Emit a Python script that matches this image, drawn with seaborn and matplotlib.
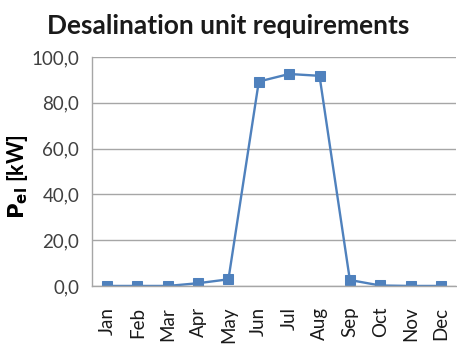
import matplotlib
matplotlib.use("Agg")
import matplotlib.pyplot as plt
import seaborn as sns
import pandas as pd
from matplotlib.ticker import FixedLocator, FuncFormatter

months = ["Jan", "Feb", "Mar", "Apr", "May", "Jun",
          "Jul", "Aug", "Sep", "Oct", "Nov", "Dec"]
power_kw = [0.0, 0.0, 0.0, 1.2, 2.9, 89.3, 92.6, 91.8, 2.6, 0.2, 0.0, 0.0]
y_ticks = [0, 20, 40, 60, 80, 100]

df = pd.DataFrame({"month": months, "power": power_kw})

sns.set_theme(style="white")
plt.rcParams["font.family"] = ["Lato", "DejaVu Sans"]

fig = plt.figure(figsize=(4.57, 3.5), dpi=100)
ax = fig.add_axes([0.201, 0.183, 0.797, 0.654])

line_color = "#4F81BD"
sns.lineplot(data=df, x="month", y="power", ax=ax, sort=False,
             color=line_color, linewidth=1.7, marker="s", markersize=6.5,
             markeredgecolor=line_color, markerfacecolor=line_color)

ax.set_xlim(-0.5, len(months) - 0.5)
ax.set_ylim(0, 100)
ax.yaxis.set_major_locator(FixedLocator(y_ticks))
ax.yaxis.set_major_formatter(FuncFormatter(lambda v, p: f"{v:.1f}".replace(".", ",")))
ax.grid(axis="y", color="#a6a6a6", linewidth=1.0)
ax.set_axisbelow(True)

for s in ["top", "right"]:
    ax.spines[s].set_visible(False)
for s in ["left", "bottom"]:
    ax.spines[s].set_color("#a6a6a6")
    ax.spines[s].set_linewidth(1.0)

# x ticks sit between categories, labels at category centres
ax.set_xticks(range(len(months)))
ax.set_xticklabels(months, rotation=90, fontsize=13.5, color="#1a1a1a")
ax.set_xticks([i - 0.5 for i in range(len(months) + 1)], minor=True)
ax.tick_params(axis="x", which="major", length=0, pad=15)
ax.tick_params(axis="x", which="minor", length=6, color="#a6a6a6", width=1)
ax.tick_params(axis="y", length=6, color="#a6a6a6", width=1,
               labelsize=13.5, labelcolor="#404040", pad=3)

ax.set_xlabel("")
ax.set_ylabel(r"$\mathbf{P_{el}}$ [kW]", fontsize=15.5, fontweight="bold",
              color="#000000")
ax.yaxis.set_label_coords(-0.17, 0.48)
fig.text(0.5, 0.925, "Desalination unit requirements", ha="center",
         va="center", fontsize=19, fontweight="bold", color="#1a1a1a")

fig.savefig("out.png", dpi=100, facecolor="white")
